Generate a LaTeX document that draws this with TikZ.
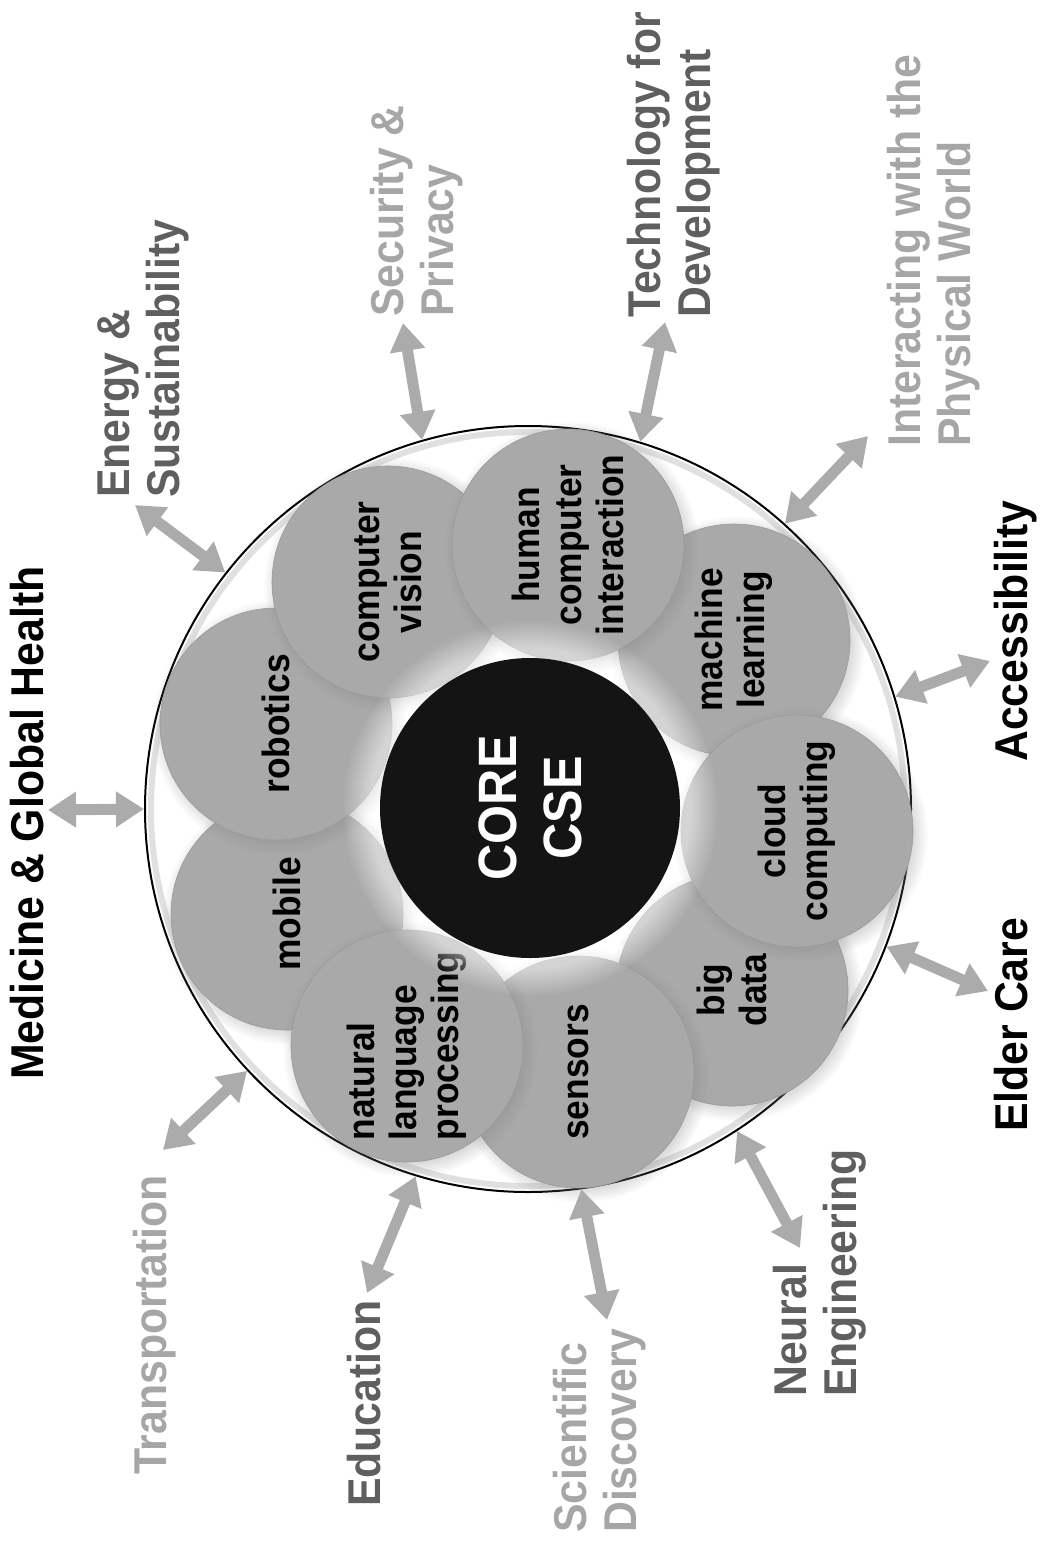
\documentclass[tikz,border=0pt]{standalone}
\usepackage{fontspec}
\setmainfont{Liberation Sans}[FakeStretch=0.93]
\usepackage{xcolor}
\usetikzlibrary{arrows.meta,shadows}
\definecolor{bubblegray}{HTML}{A9A9A9}
\definecolor{arrowgray}{HTML}{ABABAB}
\definecolor{darklabel}{HTML}{5F5F5F}
\definecolor{lightlabel}{HTML}{A6A6A6}
\begin{document}
\begin{tikzpicture}[x=1pt, y=-1pt,
    bubble/.style = {circle, fill=bubblegray, draw=black!40, line width=0.6pt,
      minimum size=232pt, inner sep=0pt, align=center, rotate=90,
      font=\bfseries\fontsize{38}{42}\selectfont,
      circular drop shadow={shadow xshift=3pt, shadow yshift=-3pt, opacity=0.35}},
    area/.style = {rotate=90, anchor=north west, inner sep=0pt, align=left,
      font=\bfseries\fontsize{46}{50}\selectfont},
    link/.style = {{Triangle[length=28pt,width=34pt]}-{Triangle[length=28pt,width=34pt]},
      line width=11pt, draw=arrowgray}]
    \useasboundingbox (0,0) rectangle (1039,1545);
    \node[circle, minimum size=766pt, inner sep=0pt, draw=black, fill=white,
      line width=2pt] (rim) at (528,809) {};
    \draw[black!12, line width=6pt] (528,809) circle (377pt);
    \node[bubble] (mobile) at (287,914) {mobile};
    \node[bubble] (robotics) at (276,724) {robotics};
    \node[bubble] (vision) at (388,582) {computer\\vision};
    \node[bubble] (bigdata) at (732,990) {big\\data};
    \node[bubble] (learning) at (734,640) {machine\\learning};
    \node[bubble] (hci) at (568,545) {human\\computer\\interaction};
    \node[bubble] (cloud) at (797,831) {cloud\\computing};
    \node[bubble] (sensors) at (578,1072) {sensors};
    \node[bubble, align=left] (nlp) at (407,1046) {natural\\language\\processing};
    \node[circle, minimum size=300pt, inner sep=0pt, fill=black!92, text=white,
      rotate=90, align=center, font=\bfseries\fontsize{54}{65}\selectfont,
      circular glow={fill=white, opacity=0.5}] (core) at (530,808) {CORE\\CSE};
    \node[area, text=black] (medicine) at (10,1080) {Medicine \& Global Health};
    \node[area, text=darklabel] (energy) at (97,498) {Energy \&\\Sustainability};
    \node[area, text=lightlabel] (security) at (370,317) {Security \&\\Privacy};
    \node[area, text=darklabel] (technology) at (627,318) {Technology for\\Development};
    \node[area, text=lightlabel] (physical) at (887,447) {Interacting with the\\Physical World};
    \node[area, text=black] (access) at (994,762) {Accessibility};
    \node[area, text=black] (elder) at (994,1132) {Elder Care};
    \node[area, text=darklabel] (neural) at (773,1397) {Neural\\Engineering};
    \node[area, text=lightlabel] (science) at (553,1533) {Scientific\\Discovery};
    \node[area, text=darklabel] (education) at (347,1507) {Education};
    \node[area, text=lightlabel] (transport) at (133,1475) {Transportation};
    \coordinate (medEnd) at (48,810);
    \coordinate (enEnd) at (135,505);
    \coordinate (secEnd) at (403,323);
    \coordinate (techEnd) at (665,322);
    \coordinate (physEnd) at (868,436);
    \coordinate (accEnd) at (990,661);
    \coordinate (elderEnd) at (988,991);
    \coordinate (neuEnd) at (800,1248);
    \coordinate (sciEnd) at (607,1320);
    \coordinate (eduEnd) at (367,1293);
    \coordinate (traEnd) at (163,1150);
    \draw[link] (medEnd) -- (rim.180);
    \draw[link] (enEnd) -- (rim.142);
    \draw[link] (secEnd) -- (rim.106);
    \draw[link] (techEnd) -- (rim.73);
    \draw[link] (physEnd) -- (rim.48);
    \draw[link] (accEnd) -- (rim.17);
    \draw[link] (elderEnd) -- (rim.-21);
    \draw[link] (neuEnd) -- (rim.-57);
    \draw[link] (sciEnd) -- (rim.-82);
    \draw[link] (eduEnd) -- (rim.-107);
    \draw[link] (traEnd) -- (rim.-137);
  \end{tikzpicture}
\end{document}
